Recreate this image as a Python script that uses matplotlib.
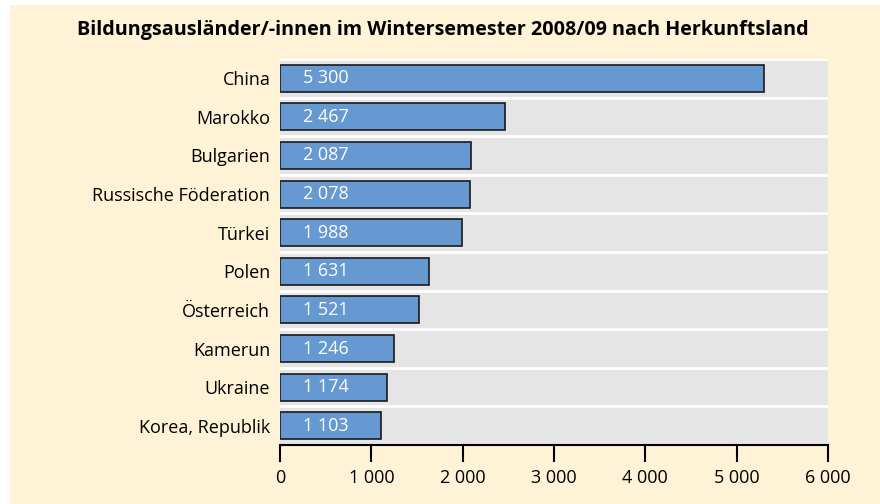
import matplotlib.pyplot as plt
from matplotlib.patches import Rectangle

countries = ['China', 'Marokko', 'Bulgarien', 'Russische Föderation', 'Türkei',
             'Polen', 'Österreich', 'Kamerun', 'Ukraine', 'Korea, Republik']
students = [5300, 2467, 2087, 2078, 1988, 1631, 1521, 1246, 1174, 1103]
xticks = [0, 1000, 2000, 3000, 4000, 5000, 6000]


def fmt(v):
    return f'{v:,}'.replace(',', ' ')


plt.rcParams['font.family'] = ['Open Sans', 'DejaVu Sans']

fig = plt.figure(figsize=(8.8, 5.04), dpi=100)
fig.patch.set_facecolor('white')
# cream background, leaving a thin white margin left and top
fig.add_artist(Rectangle((10 / 880, 0), 1, 1 - 5 / 504, transform=fig.transFigure,
                         facecolor='#fef2d7', edgecolor='none', zorder=-10))

ax = fig.add_axes([280 / 880, 1 - 445 / 504, 548 / 880, 386 / 504])
ax.set_facecolor('#e5e5e5')

n = len(countries)
ypos = list(range(n))[::-1]
ax.barh(ypos, students, height=0.7, color='#6699d1', edgecolor='#1a1a1a',
        linewidth=1.2, zorder=3)
for y, v in zip(ypos, students):
    ax.text(250, y, fmt(v), color='white', fontsize=13, va='center', ha='left', zorder=4)

# white separators between rows
for b in range(n + 1):
    ax.axhline(b - 0.5, color='white', linewidth=2, zorder=2)

ax.set_ylim(-0.5, n - 0.5)
ax.set_xlim(0, 6000)
ax.set_yticks(ypos)
ax.set_yticklabels(countries, fontsize=13)
ax.tick_params(axis='y', length=0, pad=7)
ax.set_xticks(xticks)
ax.set_xticklabels([fmt(t) for t in xticks], fontsize=13)
ax.tick_params(axis='x', direction='out', length=12, width=1.5, pad=5)

for s in ['top', 'right', 'left']:
    ax.spines[s].set_visible(False)
ax.spines['bottom'].set_linewidth(1.5)

fig.text(0.503, 1 - 30 / 504, 'Bildungsausländer/-innen im Wintersemester 2008/09 nach Herkunftsland',
         ha='center', va='center', fontsize=14.2, fontweight='bold')

fig.savefig('out.png', dpi=100)
